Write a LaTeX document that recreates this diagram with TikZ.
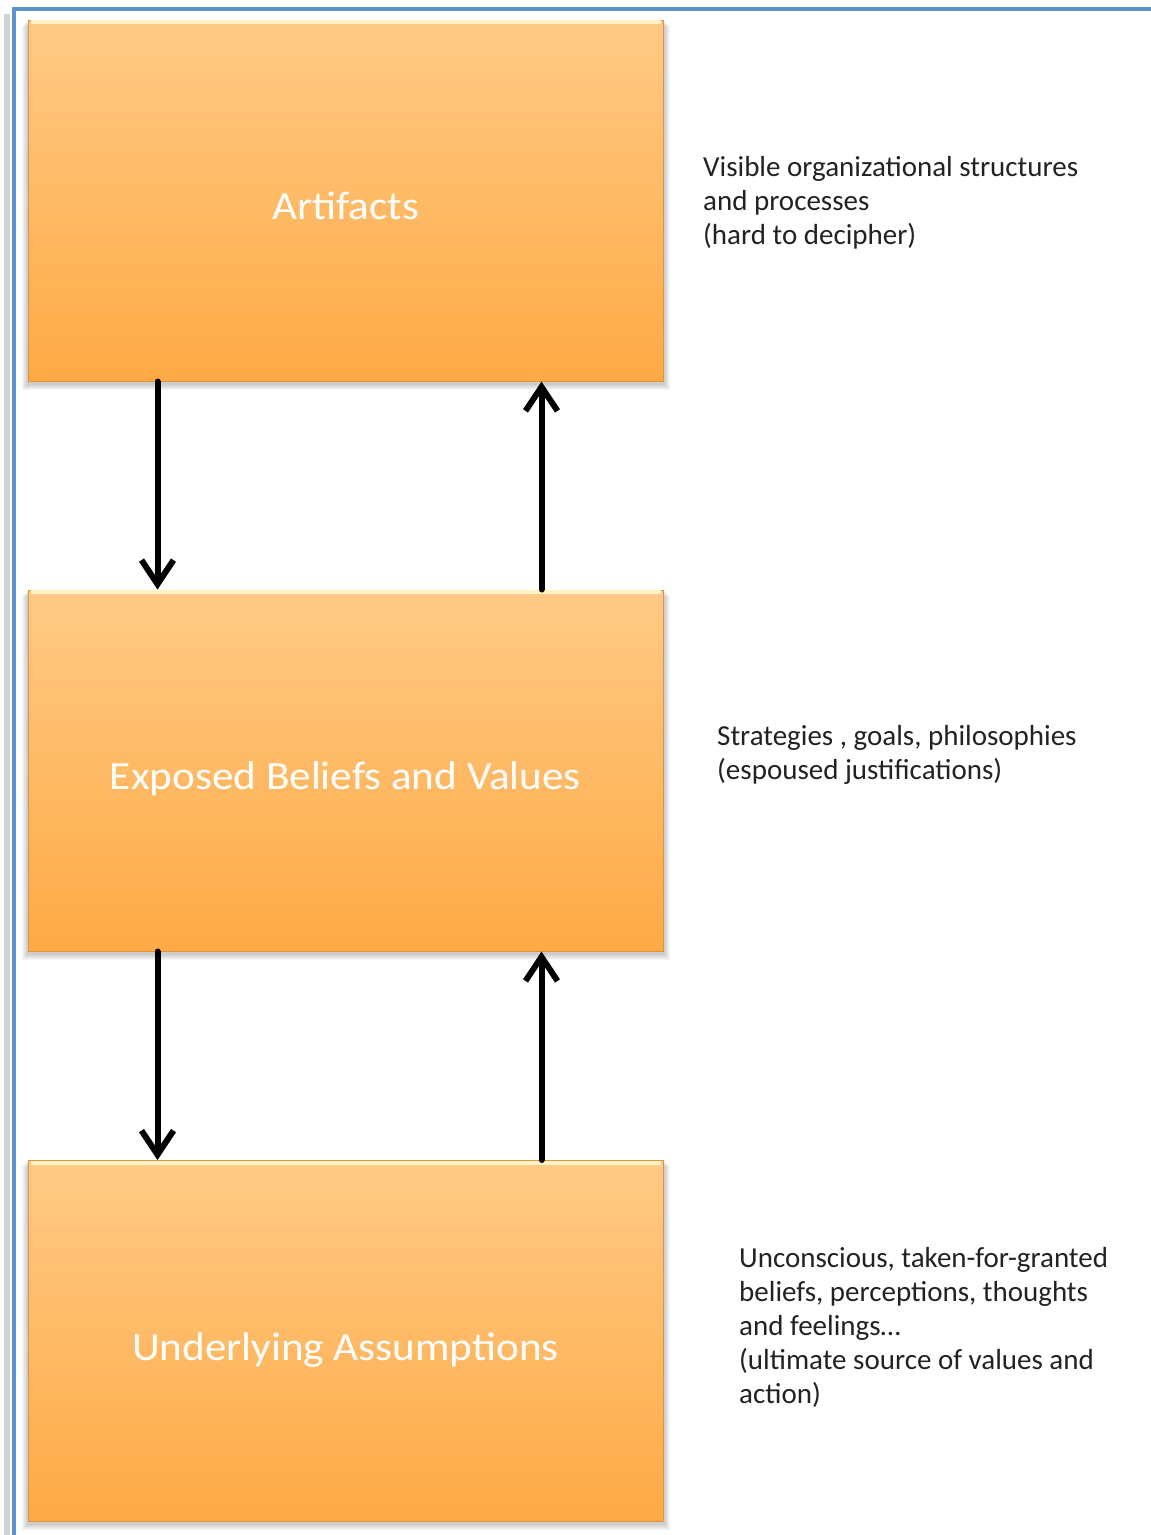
\documentclass[tikz,border=0pt]{standalone}
\usepackage{fontspec}
\setmainfont{Carlito}
\newfontfamily\layerfont[FakeStretch=1.08]{Carlito}
\usetikzlibrary{arrows.meta,backgrounds}

\definecolor{frameblue}{HTML}{5E92CC}
\definecolor{boxtop}{HTML}{FFCA86}
\definecolor{boxbot}{HTML}{FFAA45}
\definecolor{boxedge}{HTML}{E0933E}
\definecolor{boxlight}{HTML}{FFF2C6}
\definecolor{notegray}{HTML}{222222}

\tikzset{
  layer/.style={rectangle, minimum width=635pt, minimum height=361pt,
    top color=boxtop, bottom color=boxbot, draw=boxedge, line width=1pt,
    inner sep=0pt},
  layertext/.style={text=white, font=\layerfont\fontsize{40}{46}\selectfont},
  note/.style={anchor=west, align=left, text=notegray,
    font=\fontsize{29}{34}\selectfont, inner sep=0pt},
  flow/.style={line width=6pt, line cap=round, line join=round,
    -{Straight Barb[length=24pt, width=32pt]}},
  highlight/.style={boxlight, line width=4pt}
}

\begin{document}
\begin{tikzpicture}[x=1pt, y=-1pt]
  \useasboundingbox (0,0) rectangle (1151,1535);

  % page frame with its shadow on the left
  \draw[black!35, line width=6pt, opacity=0.5] (7,1535) -- (7,14);
  \draw[frameblue, line width=4pt] (14,1535) -- (14,9) -- (1151,9);

  % the three levels
  \node[layer, label={[layertext, yshift=-5pt]center:Artifacts}]
    (art) at (345.5,200.5) {};
  \node[layer, label={[layertext, yshift=-8pt]center:Exposed Beliefs and Values}]
    (bel) at (345.5,770.5) {};
  \node[layer, label={[layertext, yshift=-9pt]center:Underlying Assumptions}]
    (ass) at (345.5,1341) {};

  % soft shadows and top bevel highlights
  \begin{scope}[on background layer]
    \foreach \n in {art,bel,ass}{
      \foreach \s [evaluate=\s as \d using \s+2] in {1,...,6}{
        \fill[black, opacity=0.035]
          ([xshift=-\s pt, yshift=-\d pt]\n.south west)
          rectangle ([xshift=\s pt, yshift=-\s pt]\n.north east);
      }
    }
  \end{scope}
  \foreach \n in {art,bel,ass}{
    \draw[highlight] ([xshift=3pt, yshift=-2.5pt]\n.north west)
      -- ([xshift=-3pt, yshift=-2.5pt]\n.north east);
  }

  % influence arrows between levels
  \draw[flow] ([xshift=130pt]art.south west) -- ([xshift=130pt]bel.north west);
  \draw[flow] ([xshift=514pt]bel.north west) -- ([xshift=514pt]art.south west);
  \draw[flow] ([xshift=130pt]bel.south west) -- ([xshift=130pt]ass.north west);
  \draw[flow] ([xshift=514pt]ass.north west) -- ([xshift=514pt]bel.south west);

  % descriptions
  \node[note] (nart) at (703,203) {Visible organizational structures\\and processes\\(hard to decipher)};
  \node[note] (nbel) at (717,755) {Strategies , goals, philosophies\\(espoused justifications)};
  \node[note] (nass) at (739,1327) {Unconscious, taken-for-granted\\beliefs, perceptions, thoughts\\and feelings…\\(ultimate source of values and\\action)};
\end{tikzpicture}
\end{document}
